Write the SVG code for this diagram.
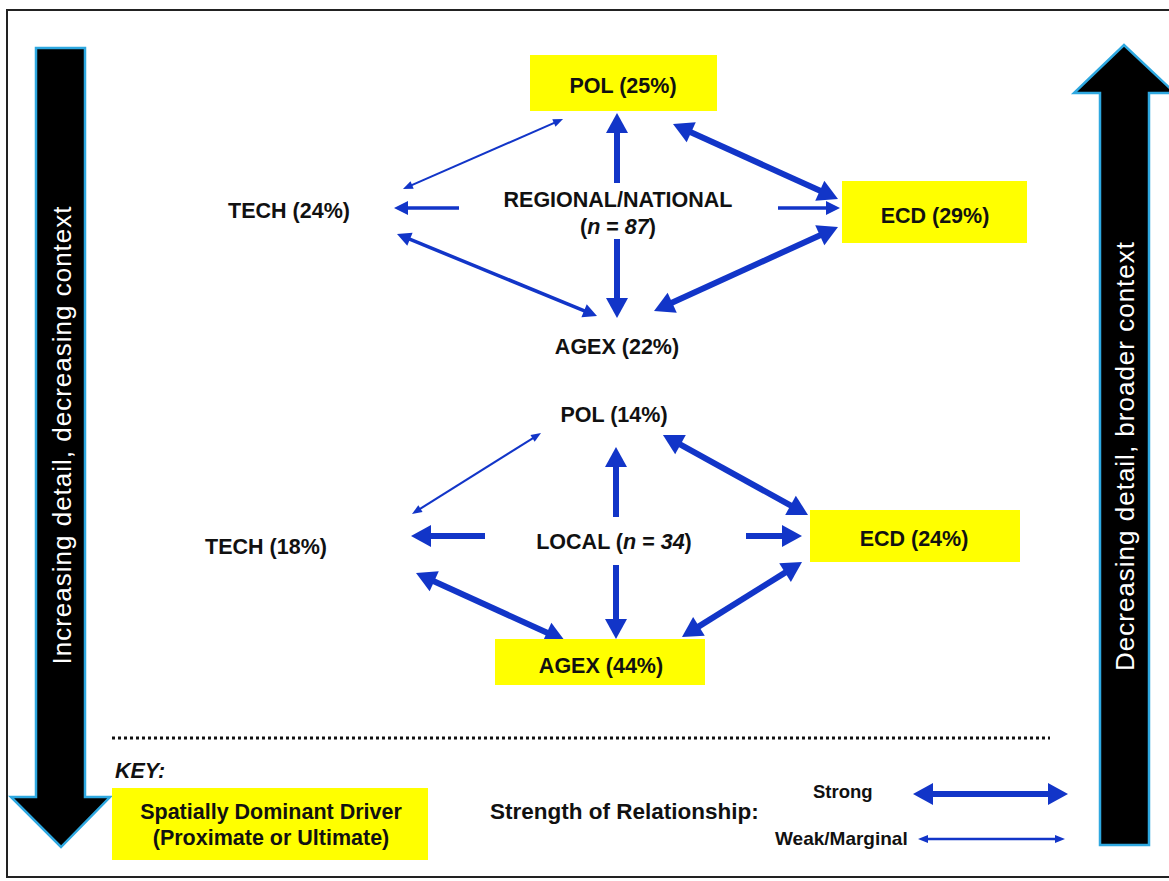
<svg xmlns="http://www.w3.org/2000/svg" width="1169" height="881" viewBox="0 0 1169 881">
<style>
.lbl{font-family:"Liberation Sans",Arial,sans-serif;font-weight:bold;font-size:21.5px;fill:#111;text-anchor:middle}
.key{font-family:"Liberation Sans",Arial,sans-serif;font-weight:bold;font-size:21.5px;fill:#111}
.side{font-family:"Liberation Sans",Arial,sans-serif;font-size:26px;fill:#fff;text-anchor:middle;letter-spacing:1px}
.box{fill:#ffff00}
.big{fill:#000;stroke:#2ea8e0;stroke-width:2.5}
.s{stroke:#1235c8;stroke-width:6;fill:none}
.m{stroke:#1235c8;stroke-width:3.5;fill:none}
.w{stroke:#1235c8;stroke-width:2;fill:none}
</style>
<defs>
<marker id="hS" markerUnits="userSpaceOnUse" viewBox="-1 -12 22 24" markerWidth="22" markerHeight="24" refX="1" refY="0" orient="auto-start-reverse"><path d="M0,-11 L20,0 L0,11 z" fill="#1235c8"/></marker>
<marker id="hM" markerUnits="userSpaceOnUse" viewBox="-1 -8 16 16" markerWidth="16" markerHeight="16" refX="1" refY="0" orient="auto-start-reverse"><path d="M0,-7 L14,0 L0,7 z" fill="#1235c8"/></marker>
<marker id="hW" markerUnits="userSpaceOnUse" viewBox="-1 -5 12 10" markerWidth="12" markerHeight="10" refX="1" refY="0" orient="auto-start-reverse"><path d="M0,-4 L10,0 L0,4 z" fill="#1235c8"/></marker>
</defs>
<rect x="0" y="0" width="1169" height="881" fill="#fff"/>
<rect x="7" y="10" width="1175" height="867" fill="none" stroke="#222" stroke-width="2"/>

<g id="context-left">
<polygon class="big" points="36,48 85,48 85,797 110,797 61,847 11,797 36,797"/>
<text class="side" transform="translate(62,435) rotate(-90)" dy="0.36em">Increasing detail, decreasing context</text>
</g>
<g id="context-right">
<polygon class="big" points="1100,845 1100,93 1074,93 1124,45 1175,93 1149,93 1149,845"/>
<text class="side" transform="translate(1125,456) rotate(-90)" dy="0.36em">Decreasing detail, broader context</text>
</g>

<g id="connectors">
<line class="w" x1="411.2" y1="185.4" x2="554.8" y2="122.6" marker-start="url(#hW)" marker-end="url(#hW)"/>
<line class="m" x1="459" y1="208" x2="407" y2="208" marker-end="url(#hM)"/>
<line class="m" x1="409" y1="238.9" x2="585" y2="311.1" marker-start="url(#hM)" marker-end="url(#hM)"/>
<line class="s" x1="617" y1="183" x2="617" y2="132" marker-end="url(#hS)"/>
<line class="s" x1="617" y1="239" x2="617" y2="299" marker-end="url(#hS)"/>
<line class="s" x1="671.3" y1="303.1" x2="820.7" y2="234.9" marker-start="url(#hS)" marker-end="url(#hS)"/>
<line class="s" x1="690.3" y1="131.9" x2="820.7" y2="191.1" marker-start="url(#hS)" marker-end="url(#hS)"/>
<line class="m" x1="778" y1="208" x2="827" y2="208" marker-end="url(#hM)"/>

<line class="w" x1="419.6" y1="509.2" x2="533.4" y2="437.8" marker-start="url(#hW)" marker-end="url(#hW)"/>
<line class="s" x1="485" y1="536" x2="430" y2="536" marker-end="url(#hS)"/>
<line class="s" x1="433.3" y1="580.9" x2="547.7" y2="633.1" marker-start="url(#hS)" marker-end="url(#hS)"/>
<line class="s" x1="616" y1="517" x2="616" y2="466" marker-end="url(#hS)"/>
<line class="s" x1="616" y1="565" x2="616" y2="620" marker-end="url(#hS)"/>
<line class="s" x1="679.6" y1="444.2" x2="791.4" y2="505.8" marker-start="url(#hS)" marker-end="url(#hS)"/>
<line class="s" x1="746" y1="536" x2="783" y2="536" marker-end="url(#hS)"/>
<line class="s" x1="698.1" y1="626.9" x2="785.9" y2="572.1" marker-start="url(#hS)" marker-end="url(#hS)"/>

<line class="s" x1="932" y1="794" x2="1049" y2="794" marker-start="url(#hS)" marker-end="url(#hS)"/>
<line class="w" x1="927" y1="839" x2="1056" y2="839" style="stroke-width:2.5px" marker-start="url(#hW)" marker-end="url(#hW)"/>
</g>

<g id="pol-regional"><rect class="box" x="530" y="55" width="187" height="56"/><text class="lbl" x="623" y="93">POL (25%)</text></g>
<g id="ecd-regional"><rect class="box" x="842" y="181" width="185" height="62"/><text class="lbl" x="935" y="223">ECD (29%)</text></g>
<g id="tech-regional"><text class="lbl" x="289" y="218">TECH (24%)</text></g>
<g id="regional-national"><text class="lbl" x="618" y="207">REGIONAL/NATIONAL</text><text class="lbl" x="618" y="234">(<tspan font-style="italic">n</tspan> = <tspan font-style="italic">87</tspan>)</text></g>
<g id="agex-regional"><text class="lbl" x="617" y="354">AGEX (22%)</text></g>

<g id="pol-local"><text class="lbl" x="614" y="422">POL (14%)</text></g>
<g id="tech-local"><text class="lbl" x="266" y="554">TECH (18%)</text></g>
<g id="local"><text class="lbl" x="614" y="549">LOCAL (<tspan font-style="italic">n</tspan> = <tspan font-style="italic">34</tspan>)</text></g>
<g id="ecd-local"><rect class="box" x="810" y="510" width="210" height="52"/><text class="lbl" x="914" y="546">ECD (24%)</text></g>
<g id="agex-local"><rect class="box" x="495" y="639" width="210" height="46"/><text class="lbl" x="601" y="673">AGEX (44%)</text></g>

<line x1="112" y1="738" x2="1050" y2="738" stroke="#111" stroke-width="3" stroke-dasharray="3 3"/>

<g id="key">
<text class="key" x="115" y="778" font-style="italic">KEY:</text>
<rect class="box" x="112" y="788" width="316" height="72"/>
<text class="lbl" x="271" y="819">Spatially Dominant Driver</text>
<text class="lbl" x="271" y="845">(Proximate or Ultimate)</text>
<text class="key" x="490" y="819" style="font-size:22.5px">Strength of Relationship:</text>
<text class="key" x="813" y="798" style="font-size:18.5px">Strong</text>
<text class="key" x="775" y="845" style="font-size:19px">Weak/Marginal</text>
</g>
</svg>
